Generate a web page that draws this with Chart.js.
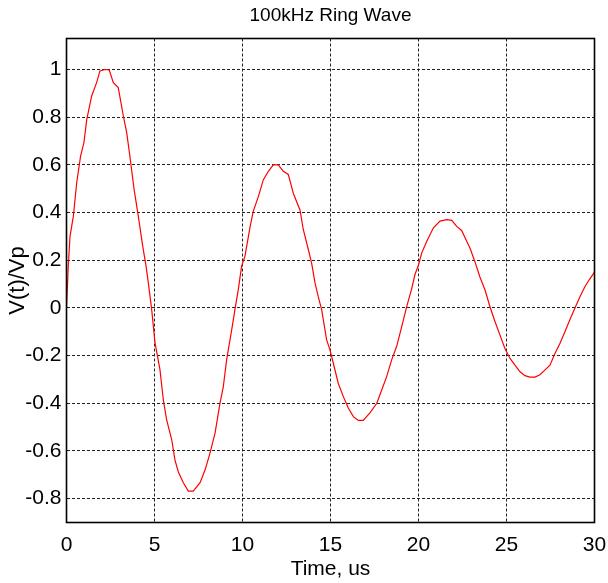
<!DOCTYPE html>
<html>
<head>
<title>100kHz Ring Wave</title>
<script src="https://cdn.jsdelivr.net/npm/chart.js"></script>
<style>
  html, body { margin: 0; padding: 0; background: #fff; }
  #wrap { width: 608px; height: 583px; }
</style>
</head>
<body>
<div id="wrap"><canvas id="ringChart"></canvas></div>
<script>
// values
const chartTitle = '100kHz Ring Wave';
const xLabel = 'Time, us';
const yLabel = 'V(t)/Vp';

const timeUs = [
  0, 0.1, 0.2, 0.39, 0.58, 0.8, 0.99, 1.15, 1.43, 1.71, 1.9, 2.19, 2.43, 2.66, 2.94,
  3.23, 3.42, 3.6, 3.84, 4.08, 4.33, 4.52, 4.65, 4.84, 5.03, 5.31, 5.5, 5.69, 5.98,
  6.16, 6.35, 6.64, 6.92, 7.2, 7.59, 7.87, 8.15, 8.44, 8.72, 8.91, 9.1, 9.39, 9.57,
  9.76, 9.95, 10.14, 10.43, 10.61, 10.9, 11.18, 11.47, 11.75, 12.03, 12.32, 12.6,
  12.89, 13.27, 13.45, 13.74, 13.93, 14.12, 14.3, 14.5, 14.78, 14.97, 15.16, 15.44,
  15.73, 16.01, 16.3, 16.58, 16.86, 17.24, 17.63, 17.91, 18.19, 18.48, 18.76, 19.05,
  19.33, 19.61, 19.8, 20.0, 20.18, 20.47, 20.84, 21.22, 21.6, 21.89, 22.17, 22.45,
  22.74, 22.93, 23.2, 23.49, 23.78, 24.06, 24.35, 24.63, 24.91, 25.2, 25.48, 25.77,
  26.05, 26.33, 26.62, 26.9, 27.19, 27.47, 27.76, 28.04, 28.32, 28.6, 28.89, 29.18,
  29.46, 29.7, 30
];
const voltRatio = [
  0, 0.175, 0.30, 0.385, 0.525, 0.637, 0.693, 0.79, 0.889, 0.945, 0.994, 1.0, 0.998, 0.945, 0.924,
  0.805, 0.735, 0.637, 0.497, 0.385, 0.259, 0.175, 0.105, -0.007, -0.147, -0.259, -0.385, -0.47, -0.553,
  -0.637, -0.687, -0.733, -0.768, -0.768, -0.733, -0.68, -0.61, -0.525, -0.40, -0.33, -0.217, -0.09, -0.007,
  0.077, 0.175, 0.217, 0.34, 0.405, 0.467, 0.537, 0.573, 0.60, 0.60, 0.573, 0.56,
  0.48, 0.41, 0.33, 0.245, 0.187, 0.105, 0.048, -0.008, -0.134, -0.176, -0.232, -0.316,
  -0.372, -0.42, -0.456, -0.472, -0.472, -0.44, -0.40, -0.344, -0.288, -0.217, -0.161, -0.077,
  0.005, 0.08, 0.14, 0.18, 0.23, 0.28, 0.335, 0.364, 0.37, 0.367, 0.342, 0.325,
  0.28, 0.25, 0.195, 0.13, 0.075, 0.005, -0.058, -0.114, -0.17, -0.212, -0.24, -0.268,
  -0.284, -0.29, -0.29, -0.28, -0.26, -0.24, -0.19, -0.148, -0.1, -0.05, 0.0, 0.048,
  0.09, 0.118, 0.15
];
const xTicks = [0, 5, 10, 15, 20, 25, 30];
const yTicks = [-0.8, -0.6, -0.4, -0.2, 0, 0.2, 0.4, 0.6, 0.8, 1];

const fontFamily = '"Liberation Sans", Arial, sans-serif';

// title centred over the plot area, plus a solid box round it
const framePlugin = {
  id: 'frame',
  afterDraw(chart) {
    const { ctx, chartArea: a } = chart;
    ctx.save();
    ctx.strokeStyle = '#000';
    ctx.lineWidth = 1.6;
    ctx.strokeRect(a.left, a.top, a.right - a.left, a.bottom - a.top);
    ctx.fillStyle = '#000';
    ctx.font = '19px ' + fontFamily;
    ctx.textAlign = 'center';
    ctx.textBaseline = 'middle';
    ctx.fillText(chartTitle, (a.left + a.right) / 2, 16);
    ctx.restore();
  }
};

const points = timeUs.map((t, i) => ({ x: t, y: voltRatio[i] }));

const ctx = document.getElementById('ringChart').getContext('2d');
new Chart(ctx, {
  type: 'scatter',
  data: {
    datasets: [{
      data: points,
      showLine: true,
      borderColor: '#ff0000',
      borderWidth: 1.2,
      pointRadius: 0,
      tension: 0
    }]
  },
  options: {
    responsive: true,
    maintainAspectRatio: false,
    animation: false,
    layout: { padding: { top: 38.5, right: 13.5, left: 0, bottom: 0 } },
    plugins: {
      legend: { display: false },
      tooltip: { enabled: false },
      title: { display: false }
    },
    scales: {
      x: {
        type: 'linear',
        min: 0,
        max: 30,
        afterBuildTicks: s => { s.ticks = xTicks.map(v => ({ value: v })); },
        afterFit: s => { s.height = 60.5; s.paddingLeft = 0; s.paddingRight = 0; },
        border: { display: false, dash: [3, 2] },
        grid: { color: '#222', lineWidth: 1, drawTicks: false },
        ticks: { color: '#000', padding: 10, maxRotation: 0, font: { family: fontFamily, size: 21 } },
        title: {
          display: true, text: xLabel, color: '#000',
          font: { family: fontFamily, size: 21 }, padding: { top: 0, bottom: 1 }
        }
      },
      y: {
        type: 'linear',
        min: -0.9,
        max: 1.13,
        afterBuildTicks: s => { s.ticks = yTicks.map(v => ({ value: v })); },
        afterFit: s => { s.width = 66.5; },
        border: { display: false, dash: [3, 2] },
        grid: { color: '#222', lineWidth: 1, drawTicks: false },
        ticks: {
          color: '#000', padding: 5,
          font: { family: fontFamily, size: 21 },
          callback: v => String(Math.round(v * 10) / 10)
        },
        title: {
          display: true, text: yLabel, color: '#000',
          font: { family: fontFamily, size: 22 }, padding: { top: 5, bottom: 0 }
        }
      }
    }
  },
  plugins: [framePlugin]
});
</script>
</body>
</html>
